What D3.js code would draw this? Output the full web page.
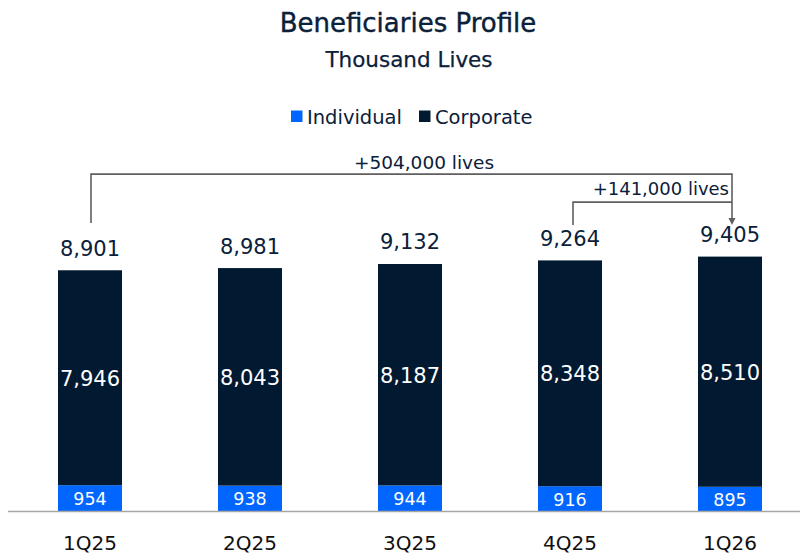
<!DOCTYPE html>
<html>
<head>
<meta charset="utf-8">
<script src="https://cdn.jsdelivr.net/npm/d3@7/dist/d3.min.js"></script>
<style>
  body { margin: 0; background: #fff; }
  svg text { font-family: "DejaVu Sans", sans-serif; }
</style>
</head>
<body>
<svg id="chart" width="800" height="554"></svg>
<script>
// data
const quarters = ['1Q25', '2Q25', '3Q25', '4Q25', '1Q26']
const individual = [954, 938, 944, 916, 895]
const corporate = [7946, 8043, 8187, 8348, 8510]
const totals = [8901, 8981, 9132, 9264, 9405]
const seriesNames = ['Individual', 'Corporate']
const bracketLabels = ['+504,000 lives', '+141,000 lives']

const navy = '#021a31', blue = '#0066ff', ink = '#0b2039', gray = '#5f5f5f'
const fmt = d3.format(',')

const svg = d3.select('#chart')

let x = d3.scaleBand().domain(quarters).range([10, 810]).paddingInner(0.6).paddingOuter(0.3)
let y = d3.scaleLinear().domain([0, 9405]).range([511, 256.6])
const bw = x.bandwidth()
const cx = q => x(q) + bw / 2

// title
svg.append('text').attr('x', 408).attr('y', 32).attr('text-anchor', 'middle')
    .attr('font-size', 26).attr('fill', ink).attr('stroke', ink).attr('stroke-width', 0.4)
    .text('Beneficiaries Profile')
svg.append('text').attr('x', 409).attr('y', 67).attr('text-anchor', 'middle')
    .attr('font-size', 21.5).attr('fill', ink).attr('stroke', ink).attr('stroke-width', 0.25)
    .text('Thousand Lives')

// legend
let lg = svg.append('g')
let lx = [291, 419]
seriesNames.forEach((n, i) => {
    lg.append('rect').attr('x', lx[i]).attr('y', 110.5).attr('width', 11.5).attr('height', 11.5)
        .attr('fill', i ? navy : blue)
    lg.append('text').attr('x', lx[i] + 16).attr('y', 123.5).attr('font-size', 19.5)
        .attr('fill', ink).text(n)
})

// stacked bars
const rows = quarters.map((q, i) => ({q, ind: individual[i], corp: corporate[i], tot: totals[i]}))
let bars = svg.append('g')
bars.selectAll('rect.ind').data(rows).enter().append('rect').attr('class', 'ind')
    .attr('x', d => x(d.q)).attr('width', bw)
    .attr('y', d => y(d.ind)).attr('height', d => y(0) - y(d.ind))
    .attr('fill', blue)
bars.selectAll('rect.corp').data(rows).enter().append('rect').attr('class', 'corp')
    .attr('x', d => x(d.q)).attr('width', bw)
    .attr('y', d => y(d.ind + d.corp)).attr('height', d => y(d.ind) - y(d.ind + d.corp))
    .attr('fill', navy)

// value labels
bars.selectAll('text.ind').data(rows).enter().append('text')
    .attr('x', d => cx(d.q)).attr('y', d => (y(0) + y(d.ind)) / 2 + 1)
    .attr('text-anchor', 'middle').attr('dominant-baseline', 'central')
    .attr('font-size', 17.5).attr('fill', '#fff').text(d => fmt(d.ind))
bars.selectAll('text.corp').data(rows).enter().append('text')
    .attr('x', d => cx(d.q)).attr('y', d => (y(d.ind) + y(d.ind + d.corp)) / 2 + 1)
    .attr('text-anchor', 'middle').attr('dominant-baseline', 'central')
    .attr('font-size', 21).attr('fill', '#fff').text(d => fmt(d.corp))
bars.selectAll('text.tot').data(rows).enter().append('text')
    .attr('x', d => cx(d.q)).attr('y', d => y(d.tot) - 14.5)
    .attr('text-anchor', 'middle')
    .attr('font-size', 21).attr('fill', ink).text(d => fmt(d.tot))

// baseline + categories
svg.append('line').attr('x1', 8).attr('x2', 800).attr('y1', y(0) + 0.5).attr('y2', y(0) + 0.5)
    .attr('stroke', '#a6a6a6').attr('stroke-width', 1.5)
let xAxis = d3.axisBottom(x).tickSize(0).tickPadding(25)
let ax = svg.append('g').attr('transform', `translate(0,${y(0)})`).call(xAxis)
ax.select('.domain').remove()
ax.selectAll('text').attr('font-size', 20).attr('fill', '#111').attr('font-family', '"DejaVu Sans", sans-serif')

// growth brackets
const endY = y(9405) - 32.5
const last = cx(quarters[4]) + 2
let br = svg.append('g').attr('fill', 'none').attr('stroke', gray).attr('stroke-width', 1.6)
let outerTop = y(9405) - 82.5, innerTop = y(9405) - 54.5
br.append('path').attr('d', `M${cx(quarters[0]) + 1},${endY - 1}V${outerTop}H${last}V${endY - 5}`)
br.append('path').attr('d', `M${cx(quarters[3]) + 3},${endY + 1}V${innerTop}H${last}`)
svg.append('path').attr('d', `M${last - 3.5},${endY - 6}L${last + 3.5},${endY - 6}L${last},${endY + 1}Z`)
    .attr('fill', gray)
svg.append('text').attr('x', 424).attr('y', 168.5).attr('text-anchor', 'middle')
    .attr('font-size', 18.5).attr('fill', ink).text(bracketLabels[0])
svg.append('text').attr('x', last - 3).attr('y', 195).attr('text-anchor', 'end')
    .attr('font-size', 18).attr('fill', ink).text(bracketLabels[1])
</script>
</body>
</html>
